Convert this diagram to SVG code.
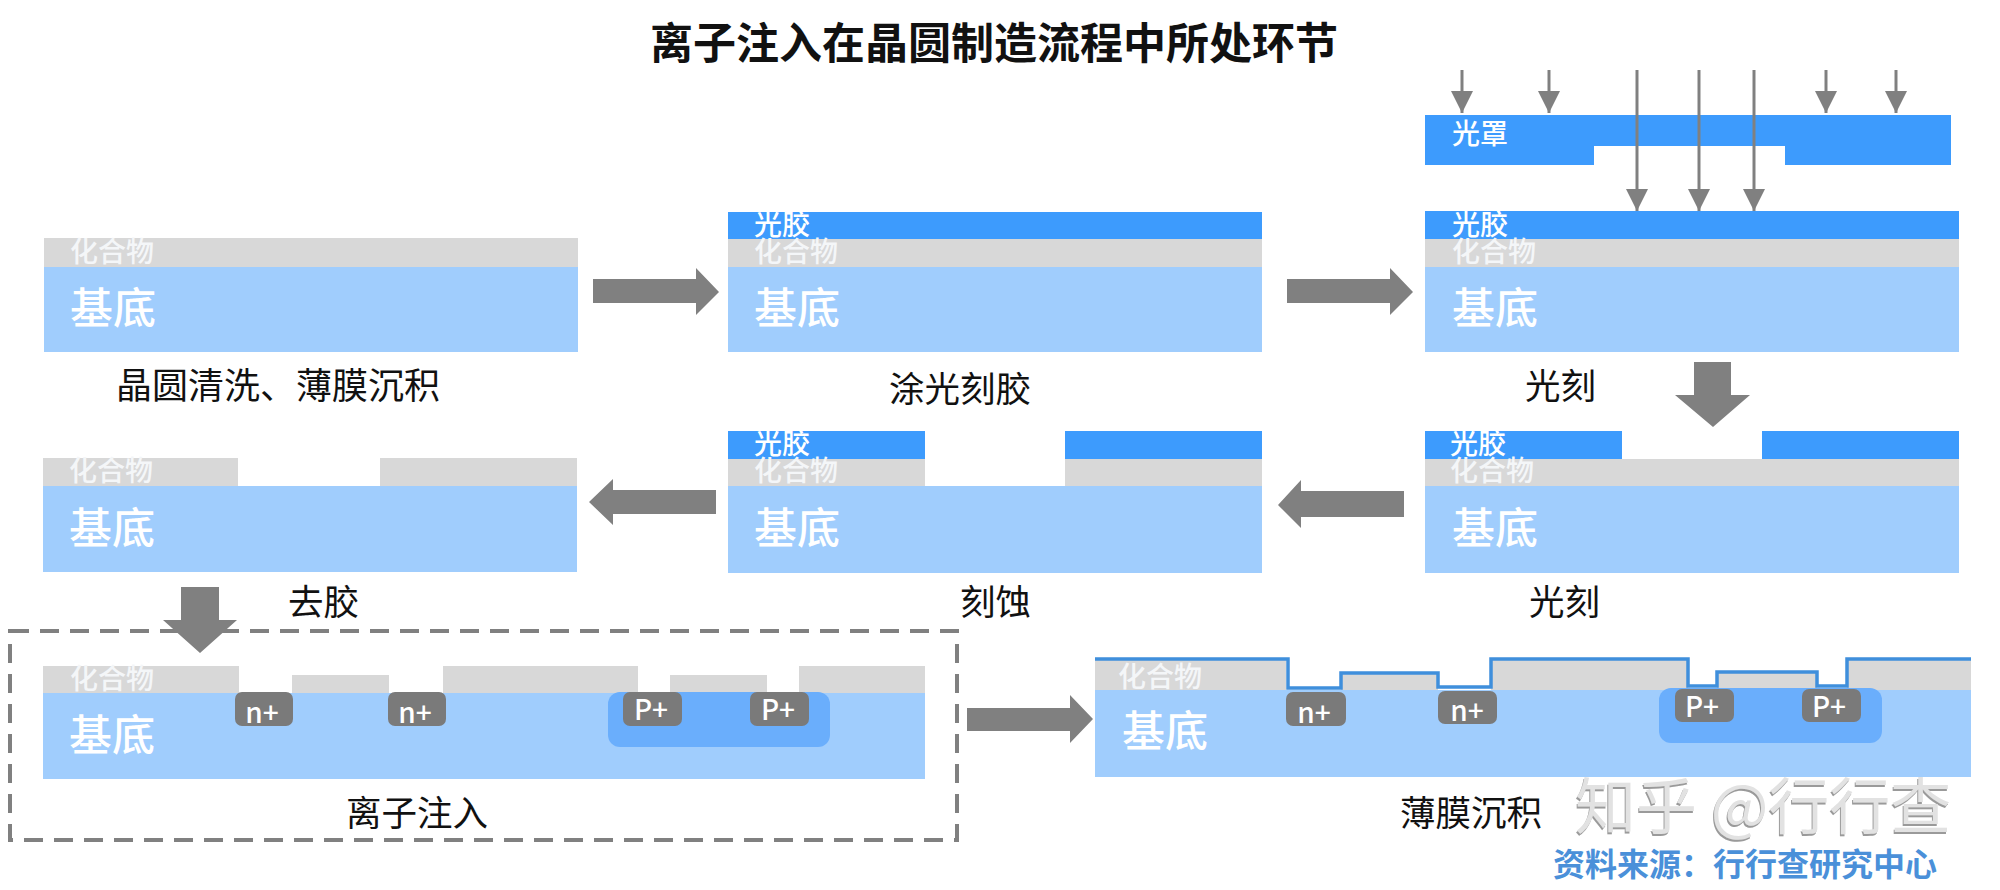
<svg xmlns="http://www.w3.org/2000/svg" width="2000" height="890" viewBox="0 0 2000 890">
<style>
text{font-family:"Noto Sans CJK SC","Noto Sans",sans-serif}
.base{fill:#a0cdfd}.ox{fill:#d8d8d8}.pr{fill:#3d9bfd}.well{fill:#6aaefc}.chip{fill:#7a7a7a}
.blk{fill:#808080}
.w28{fill:#fff;font-size:28px;font-weight:500}.w42{fill:#fff;font-size:43px;font-weight:500}.o28{fill:#f4f6f8;font-size:28px;font-weight:500}
.cap{fill:#111;font-size:35.5px}
.dop{fill:#fff;font-size:28px;text-anchor:middle;font-weight:500}
.ray{stroke:#808080;stroke-width:3;fill:none;marker-end:url(#tip)}
</style>
<defs>
<marker id="tip" markerUnits="userSpaceOnUse" markerWidth="22" markerHeight="22" refX="22" refY="11" orient="auto"><path d="M0 0L22 11L0 22z" fill="#808080"/></marker>
<filter id="sh" x="-5%" y="-5%" width="110%" height="110%"><feDropShadow dx="-1" dy="2" stdDeviation="0.6" flood-color="#9a9a9a"/></filter>
</defs>
<rect width="2000" height="890" fill="#fff"/>
<text id="title" x="994" y="59" text-anchor="middle" font-size="43" font-weight="700" fill="#111">离子注入在晶圆制造流程中所处环节</text>

<g id="step1-clean">
<rect class="ox" x="44" y="238" width="534" height="29"/><rect class="base" x="44" y="267" width="534" height="85"/>
<text class="o28" x="70" y="262">化合物</text><text class="w42" x="70" y="324">基底</text>
<text class="cap" x="116" y="399" style="font-size:36px">晶圆清洗、薄膜沉积</text>
</g>
<g id="step2-coat">
<rect class="pr" x="728" y="212" width="534" height="27"/><rect class="ox" x="728" y="239" width="534" height="28"/><rect class="base" x="728" y="267" width="534" height="85"/>
<text class="w28" x="754" y="235">光胶</text><text class="o28" x="754" y="262">化合物</text><text class="w42" x="754" y="324">基底</text>
<text class="cap" x="889" y="402">涂光刻胶</text>
</g>
<g id="step3-mask">
<path class="pr" d="M1425 115H1951V165H1785V146H1594V165H1425z"/>
<text class="w28" x="1452" y="144">光罩</text>
</g>
<g id="step3-expose">
<rect class="pr" x="1425" y="211" width="534" height="28"/><rect class="ox" x="1425" y="239" width="534" height="28"/><rect class="base" x="1425" y="267" width="534" height="85"/>
<text class="w28" x="1452" y="235">光胶</text><text class="o28" x="1452" y="262">化合物</text><text class="w42" x="1452" y="324">基底</text>
<text class="cap" x="1525" y="399">光刻</text>
</g>
<g id="step4-develop">
<rect class="pr" x="1425" y="431" width="197" height="28"/><rect class="pr" x="1762" y="431" width="197" height="28"/><rect class="ox" x="1425" y="459" width="534" height="27"/><rect class="base" x="1425" y="486" width="534" height="87"/>
<text class="w28" x="1450" y="454">光胶</text><text class="o28" x="1450" y="481">化合物</text><text class="w42" x="1452" y="544">基底</text>
<text class="cap" x="1529" y="615">光刻</text>
</g>
<g id="step5-etch">
<rect class="pr" x="728" y="431" width="197" height="28"/><rect class="pr" x="1065" y="431" width="197" height="28"/><rect class="ox" x="728" y="459" width="197" height="27"/><rect class="ox" x="1065" y="459" width="197" height="27"/><rect class="base" x="728" y="486" width="534" height="87"/>
<text class="w28" x="754" y="454">光胶</text><text class="o28" x="754" y="481">化合物</text><text class="w42" x="754" y="544">基底</text>
<text class="cap" x="960" y="615">刻蚀</text>
</g>
<g id="step6-strip">
<rect class="ox" x="43" y="458" width="195" height="28"/><rect class="ox" x="380" y="458" width="197" height="28"/><rect class="base" x="43" y="486" width="534" height="86"/>
<text class="o28" x="69" y="481">化合物</text><text class="w42" x="69" y="544">基底</text>
<text class="cap" x="288" y="615">去胶</text>
</g>
<g id="step7-implant">
<rect x="10" y="631" width="947" height="209" fill="none" stroke="#808080" stroke-width="4" stroke-dasharray="19 11"/>
<path class="ox" d="M43 666H239V693H292V675H389V693H443V666H638V693H670V675H767V693H799V666H925V693H43z"/>
<rect class="base" x="43" y="693" width="882" height="86"/>
<rect class="well" x="608" y="692" width="222" height="55" rx="12"/>
<rect class="chip" x="235" y="692" width="58" height="34" rx="7"/><rect class="chip" x="388" y="692" width="58" height="34" rx="7"/><rect class="chip" x="623" y="692" width="59" height="34" rx="7"/><rect class="chip" x="750" y="692" width="59" height="34" rx="7"/>
<text class="dop" x="262" y="723">n+</text><text class="dop" x="415" y="723">n+</text><text class="dop" x="651" y="720">P+</text><text class="dop" x="778" y="720">P+</text>
<text class="o28" x="70" y="689">化合物</text><text class="w42" x="69" y="751">基底</text>
<text class="cap" x="346" y="826">离子注入</text>
</g>
<g id="step8-deposit">
<path class="ox" d="M1095 660H1286V690H1341V673H1438V690H1491V660H1688V690H1717V673H1817V690H1847V660H1971V690H1095z"/>
<rect class="base" x="1095" y="690" width="876" height="87"/>
<rect class="well" x="1659" y="688" width="223" height="55" rx="12"/>
<path d="M1095 659H1288V688H1341V673H1438V687H1491V659H1688V686H1717V672H1817V686H1847V659H1971" fill="none" stroke="#3f8fdc" stroke-width="3.5"/>
<rect class="chip" x="1286" y="692" width="60" height="34" rx="7"/><rect class="chip" x="1438" y="691" width="59" height="33" rx="7"/><rect class="chip" x="1675" y="689" width="59" height="33" rx="7"/><rect class="chip" x="1802" y="689" width="59" height="33" rx="7"/>
<text class="dop" x="1314" y="723">n+</text><text class="dop" x="1467" y="721">n+</text><text class="dop" x="1702" y="717">P+</text><text class="dop" x="1829" y="717">P+</text>
<text class="o28" x="1118" y="687">化合物</text><text class="w42" x="1122" y="747">基底</text>
<text class="cap" x="1400" y="826">薄膜沉积</text>
</g>
<g id="connectors">
<polygon class="blk" points="593,279 696,279 696,268 719,292 696,315 696,303 593,303"/>
<polygon class="blk" points="1287,279 1390,279 1390,268 1413,292 1390,315 1390,303 1287,303"/>
<polygon class="blk" points="1731,362 1731,395 1750,395 1713,427 1675,395 1694,395 1694,362"/>
<polygon class="blk" points="1404,491 1301,491 1301,480 1278,505 1301,528 1301,517 1404,517"/>
<polygon class="blk" points="716,490 613,490 613,479 589,502 613,525 613,514 716,514"/>
<polygon class="blk" points="219,587 219,620 237,620 200,653 163,620 181,620 181,587"/>
<polygon class="blk" points="967,708 1070,708 1070,695 1093,719 1070,743 1070,731 967,731"/>
<path class="ray" d="M1462 70V113"/><path class="ray" d="M1549 70V113"/><path class="ray" d="M1826 70V113"/><path class="ray" d="M1896 70V113"/>
<path class="ray" d="M1637 70V211"/><path class="ray" d="M1699 70V211"/><path class="ray" d="M1754 70V211"/>
</g>
<text id="watermark" x="1575" y="829" font-size="61" fill="#e2e2e2" filter="url(#sh)">知乎 @行行查</text>
<text id="source" x="1553" y="876" font-size="32" font-weight="700" fill="#4a90d9">资料来源：行行查研究中心</text>
</svg>
